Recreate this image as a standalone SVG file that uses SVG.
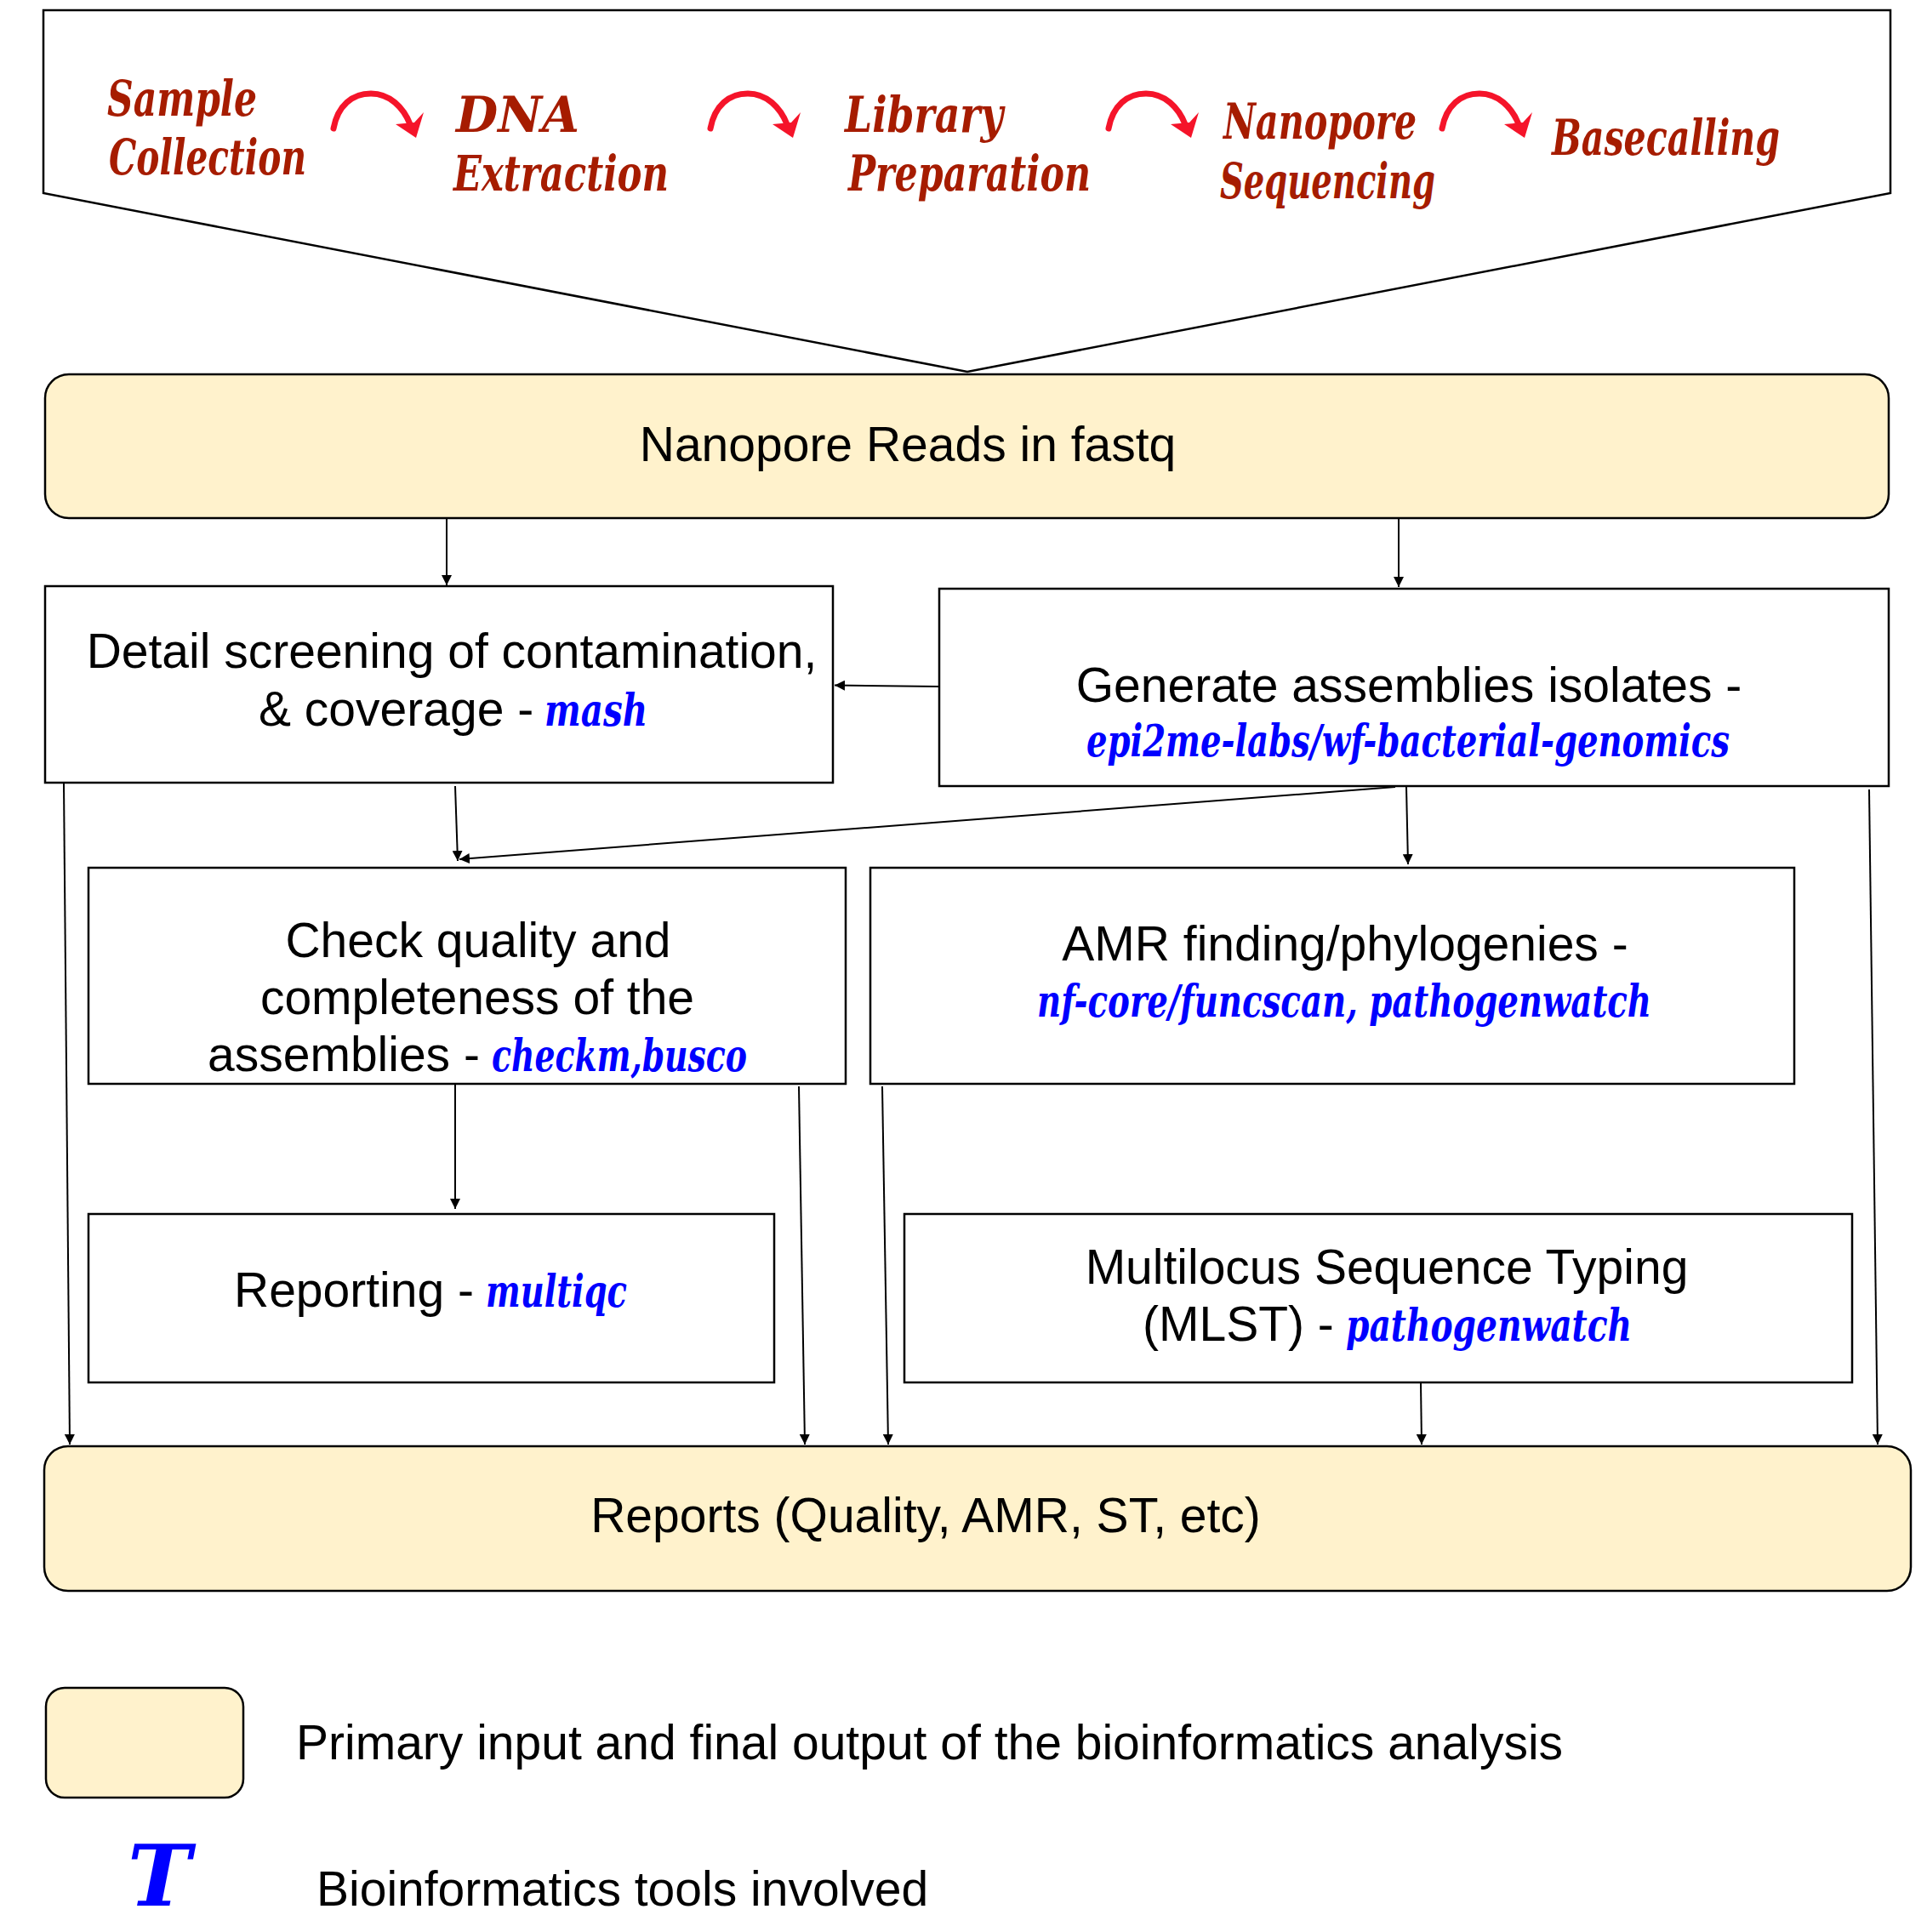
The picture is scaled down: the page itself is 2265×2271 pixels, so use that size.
<svg xmlns="http://www.w3.org/2000/svg" xmlns:xlink="http://www.w3.org/1999/xlink" width="2265" height="2271" viewBox="0 0 2265 2271">
  <style>
    .box { fill: #ffffff; stroke: #000000; stroke-width: 2.5; }
    .term { fill: #fff2cc; stroke: #000000; stroke-width: 2.5; }
    .t { font-family: "Liberation Sans", Arial, sans-serif; font-size: 57px; fill: #000000; }
    .tool { font-family: "DejaVu Serif", "Liberation Serif", serif; font-style: italic; font-weight: bold; font-size: 53px; fill: #0000ff; }
    .step { font-family: "DejaVu Serif", "Liberation Serif", serif; font-style: italic; font-weight: bold; font-size: 58px; fill: #a61c00; }
    .conn { fill: none; stroke: #000000; stroke-width: 2; marker-end: url(#ah); }
    .redarc { fill: none; stroke: #f5142a; stroke-width: 7; stroke-linecap: round; }
  </style>
  <defs>
    <marker id="ah" viewBox="0 0 10 10" refX="10" refY="5" markerWidth="6" markerHeight="6" orient="auto" markerUnits="strokeWidth">
      <path d="M0,0 L10,5 L0,10 Z" fill="#000000"/>
    </marker>
    <g id="redArrow">
      <path class="redarc" d="M392,151 C397,124 414,110 436,110 C458,110 474,126 482,146"/>
      <path d="M465,146 L489,162 L498,132 L487,144 Z" fill="#f5142a"/>
    </g>
  </defs>

  <g id="process-banner">
    <polygon points="51,12 2222,12 2222,227 1137,437 51,227" fill="#ffffff" stroke="#000000" stroke-width="2.5"/>
    <text class="step" x="126" y="136" textLength="176" lengthAdjust="spacingAndGlyphs">Sample</text>
    <text class="step" x="128" y="205" textLength="232" lengthAdjust="spacingAndGlyphs">Collection</text>
    <use xlink:href="#redArrow"/>
    <text class="step" x="536" y="155" textLength="145" lengthAdjust="spacingAndGlyphs">DNA</text>
    <text class="step" x="533" y="224" textLength="253" lengthAdjust="spacingAndGlyphs">Extraction</text>
    <use xlink:href="#redArrow" transform="translate(443,0)"/>
    <text class="step" x="993" y="155" textLength="186" lengthAdjust="spacingAndGlyphs">Library</text>
    <text class="step" x="997" y="224" textLength="285" lengthAdjust="spacingAndGlyphs">Preparation</text>
    <use xlink:href="#redArrow" transform="translate(911,0)"/>
    <text class="step" x="1438" y="163" textLength="227" lengthAdjust="spacingAndGlyphs">Nanopore</text>
    <text class="step" x="1434" y="233" textLength="253" lengthAdjust="spacingAndGlyphs">Sequencing</text>
    <use xlink:href="#redArrow" transform="translate(1303,0)"/>
    <text class="step" x="1824" y="182" textLength="268" lengthAdjust="spacingAndGlyphs">Basecalling</text>
  </g>

  <g id="nanopore-reads">
    <rect class="term" x="53" y="440" width="2167" height="169" rx="28" ry="28"/>
    <text class="t" x="1067" y="542" text-anchor="middle">Nanopore Reads in fastq</text>
  </g>

  <g id="detail-screening">
    <rect class="box" x="53" y="689" width="926" height="231"/>
    <text class="t" x="531" y="785" text-anchor="middle">Detail screening of contamination,</text>
    <text class="t" x="304" y="853">&amp; coverage -</text>
    <text class="tool" x="640" y="853" textLength="121" lengthAdjust="spacingAndGlyphs">mash</text>
  </g>

  <g id="generate-assemblies">
    <rect class="box" x="1104" y="692" width="1116" height="232"/>
    <text class="t" x="1656" y="825" text-anchor="middle">Generate assemblies isolates -</text>
    <text class="tool" x="1277" y="889" textLength="756" lengthAdjust="spacingAndGlyphs">epi2me-labs/wf-bacterial-genomics</text>
  </g>

  <g id="check-quality">
    <rect class="box" x="104" y="1020" width="890" height="254"/>
    <text class="t" x="562" y="1125" text-anchor="middle">Check quality and</text>
    <text class="t" x="561" y="1192" text-anchor="middle">completeness of the</text>
    <text class="t" x="244" y="1259">assemblies -</text>
    <text class="tool" x="578" y="1259" textLength="300" lengthAdjust="spacingAndGlyphs">checkm,busco</text>
  </g>

  <g id="amr-finding">
    <rect class="box" x="1023" y="1020" width="1086" height="254"/>
    <text class="t" x="1581" y="1129" text-anchor="middle">AMR finding/phylogenies -</text>
    <text class="tool" x="1219" y="1195" textLength="722" lengthAdjust="spacingAndGlyphs">nf-core/funcscan, pathogenwatch</text>
  </g>

  <g id="reporting">
    <rect class="box" x="104" y="1427" width="806" height="198"/>
    <text class="t" x="275" y="1536">Reporting -</text>
    <text class="tool" x="571" y="1536" textLength="166" lengthAdjust="spacingAndGlyphs">multiqc</text>
  </g>

  <g id="mlst">
    <rect class="box" x="1063" y="1427" width="1114" height="198"/>
    <text class="t" x="1630" y="1509" text-anchor="middle">Multilocus Sequence Typing</text>
    <text class="t" x="1343" y="1576">(MLST) -</text>
    <text class="tool" x="1582" y="1576" textLength="336" lengthAdjust="spacingAndGlyphs">pathogenwatch</text>
  </g>

  <g id="reports">
    <rect class="term" x="52" y="1700" width="2194" height="170" rx="28" ry="28"/>
    <text class="t" x="1088" y="1801" text-anchor="middle">Reports (Quality, AMR, ST, etc)</text>
  </g>

  <g id="connectors">
    <line class="conn" x1="525" y1="610" x2="525" y2="688"/>
    <line class="conn" x1="1644" y1="610" x2="1644" y2="690"/>
    <line class="conn" x1="1104" y1="807" x2="981" y2="805.5"/>
    <line class="conn" x1="535" y1="924" x2="538" y2="1012"/>
    <line class="conn" x1="1640" y1="925" x2="540" y2="1010"/>
    <line class="conn" x1="1653" y1="925" x2="1655" y2="1016"/>
    <line class="conn" x1="535" y1="1275" x2="535" y2="1421"/>
    <line class="conn" x1="75" y1="921" x2="82" y2="1698"/>
    <line class="conn" x1="939" y1="1277" x2="946" y2="1698"/>
    <line class="conn" x1="1037" y1="1277" x2="1044" y2="1698"/>
    <line class="conn" x1="1670" y1="1626" x2="1671" y2="1698"/>
    <line class="conn" x1="2197" y1="928" x2="2207" y2="1698"/>
  </g>

  <g id="legend">
    <rect class="term" x="54" y="1984" width="232" height="129" rx="22" ry="22"/>
    <text class="t" x="348" y="2068">Primary input and final output of the bioinformatics analysis</text>
    <text x="150" y="2240" style="font-family: 'DejaVu Serif', 'Liberation Serif', serif; font-style: italic; font-weight: bold; font-size: 100px; fill: #0000ff;">T</text>
    <text class="t" x="372" y="2240">Bioinformatics tools involved</text>
  </g>
</svg>
